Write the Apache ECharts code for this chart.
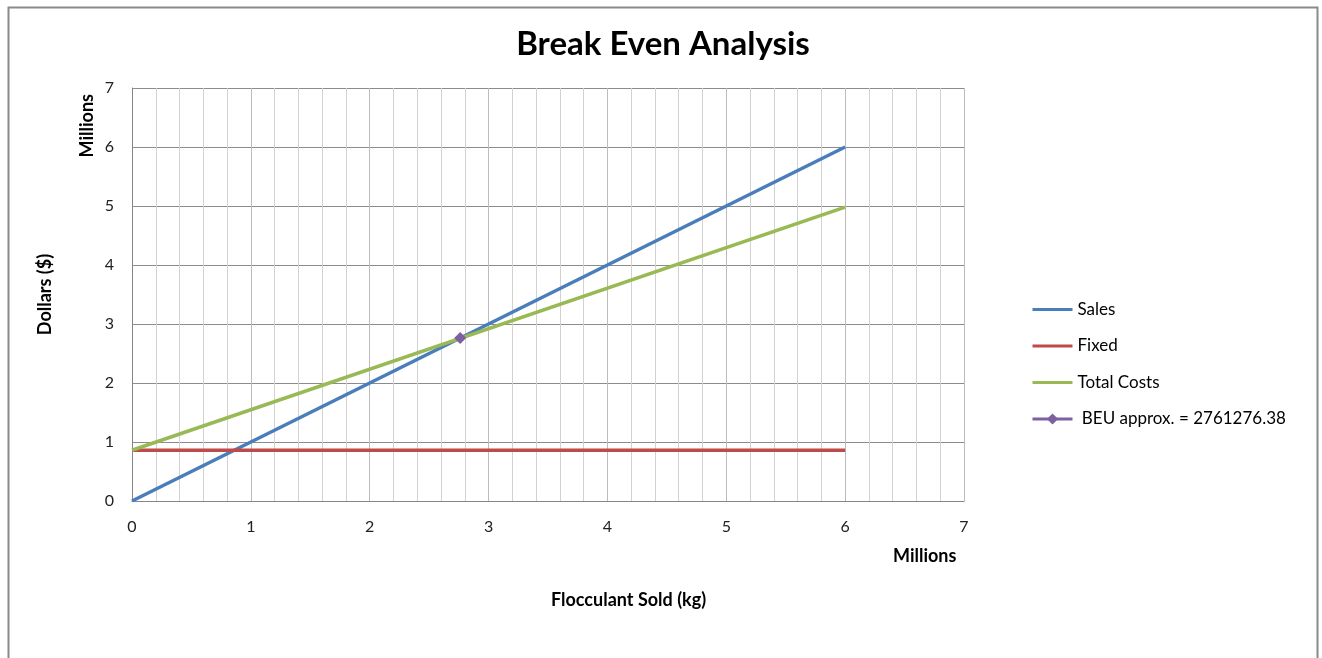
<!DOCTYPE html>
<html>
<head>
<meta charset="utf-8">
<script src="https://cdn.jsdelivr.net/npm/echarts@6/dist/echarts.min.js"></script>
<style>
html,body{margin:0;padding:0;background:#fff;}
#chart{width:1322px;height:658px;}
</style>
</head>
<body>
<div id="chart"></div>
<script>
// Values in millions
const salesData = [[0, 0], [6, 6]];
const fixedData = [[0, 0.86], [6, 0.86]];
const totalCostsData = [[0, 0.86], [6, 4.98]];
const beuData = [[2.761276, 2.761276]];
const seriesNames = ['Sales', 'Fixed', 'Total Costs', ' BEU approx. = 2761276.38'];
const xTicks = [0, 1, 2, 3, 4, 5, 6, 7];
const yTicks = [0, 1, 2, 3, 4, 5, 6, 7];

const FONT = 'Lato, "Open Sans", sans-serif';
const chart = echarts.init(document.getElementById('chart'));
chart.setOption({
  animation: false,
  backgroundColor: '#fff',
  title: {
    text: 'Break Even Analysis',
    left: 658, top: 23, textAlign: 'center',
    textStyle: {fontFamily: FONT, fontSize: 33, fontWeight: 'bold', color: '#000'}
  },
  legend: {
    orient: 'vertical',
    left: 1026, top: 296,
    itemGap: 19.5,
    itemWidth: 40, itemHeight: 14,
    textStyle: {fontFamily: FONT, fontSize: 17, color: '#000'},
    data: [
      {name: seriesNames[0], itemStyle: {opacity: 0}, lineStyle: {width: 3}},
      {name: seriesNames[1], itemStyle: {opacity: 0}, lineStyle: {width: 3}},
      {name: seriesNames[2], itemStyle: {opacity: 0}, lineStyle: {width: 3}},
      {name: seriesNames[3], lineStyle: {width: 3}}
    ]
  },
  grid: {left: 132, right: 358, top: 88, bottom: 157},
  xAxis: {
    type: 'value', min: xTicks[0], max: xTicks[xTicks.length - 1], interval: 1,
    axisLine: {show: true, lineStyle: {color: '#868686', width: 1}},
    axisTick: {show: false},
    axisLabel: {fontFamily: FONT, fontSize: 16, color: '#222', margin: 18},
    splitLine: {show: true, lineStyle: {color: '#bcbcbc', width: 1}},
    minorTick: {show: false, splitNumber: 5},
    minorSplitLine: {show: true, lineStyle: {color: '#d2d2d2', width: 1}}
  },
  yAxis: {
    type: 'value', min: yTicks[0], max: yTicks[yTicks.length - 1], interval: 1,
    name: 'Dollars ($)', nameLocation: 'middle', nameGap: 78,
    nameTextStyle: {fontFamily: FONT, fontSize: 18, fontWeight: 'bold', color: '#000'},
    axisLine: {show: true, lineStyle: {color: '#868686', width: 1}},
    axisTick: {show: false},
    axisLabel: {fontFamily: FONT, fontSize: 16, color: '#222', margin: 18},
    splitLine: {show: true, lineStyle: {color: '#8c8c8c', width: 1}}
  },
  graphic: [
    {type: 'rect', left: 6, top: 5, shape: {width: 1309, height: 700},
     style: {fill: 'none', stroke: '#8a8a8a', lineWidth: 2}, silent: true, z: -1},
    {type: 'text', left: 78, top: 94, rotation: Math.PI / 2,
     style: {text: 'Millions', font: 'bold 18px ' + FONT, fill: '#000'}},
    {type: 'text', left: 893, top: 547,
     style: {text: 'Millions', font: 'bold 18px ' + FONT, fill: '#000'}},
    {type: 'text', left: 551, top: 591,
     style: {text: 'Flocculant Sold (kg)', font: 'bold 18px ' + FONT, fill: '#000'}}
  ],
  series: [
    {name: seriesNames[0], type: 'line', data: salesData, symbol: 'none',
     lineStyle: {color: '#4a7ebb', width: 3.5}, itemStyle: {color: '#4a7ebb'}},
    {name: seriesNames[1], type: 'line', data: fixedData, symbol: 'none',
     lineStyle: {color: '#be4b48', width: 3.5}, itemStyle: {color: '#be4b48'}},
    {name: seriesNames[2], type: 'line', data: totalCostsData, symbol: 'none',
     lineStyle: {color: '#98b954', width: 3.5}, itemStyle: {color: '#98b954'}},
    {name: seriesNames[3], type: 'line', data: beuData, symbol: 'diamond', symbolSize: 12,
     lineStyle: {color: '#7d60a0', width: 3.5}, itemStyle: {color: '#7d60a0'}, z: 5}
  ]
});
</script>
</body>
</html>
